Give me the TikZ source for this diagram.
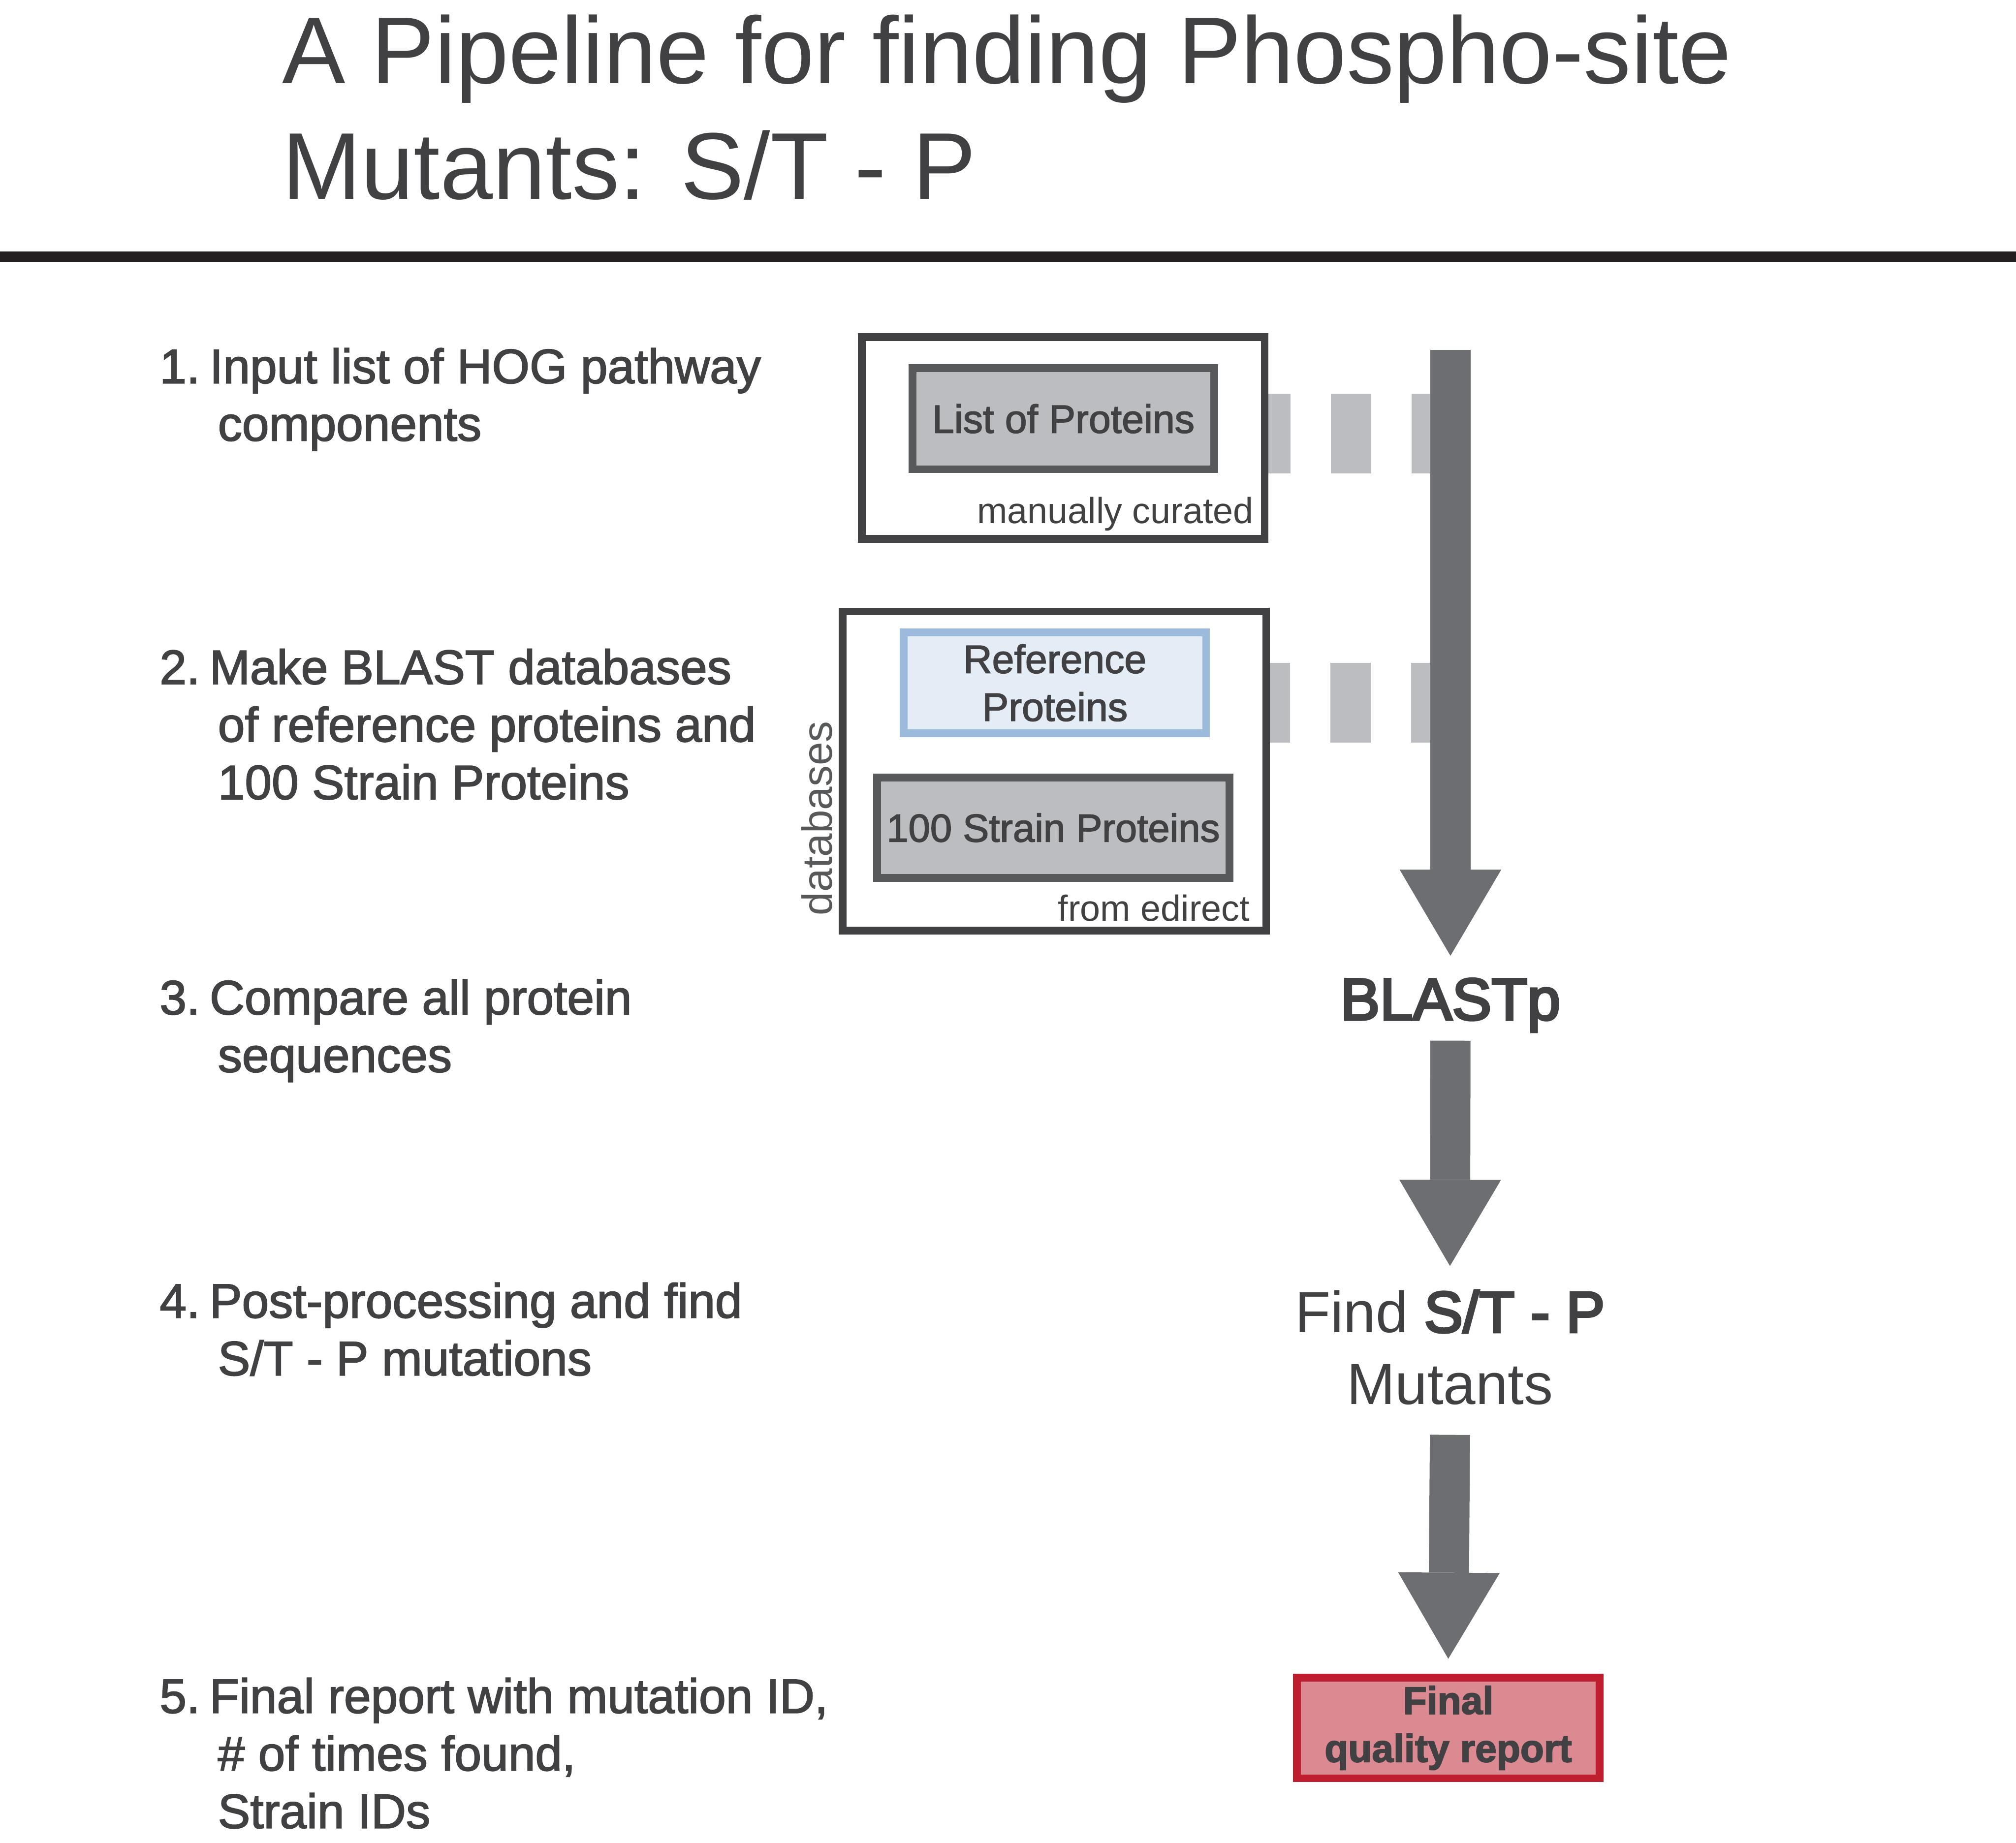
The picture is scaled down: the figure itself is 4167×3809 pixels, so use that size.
\documentclass[tikz,border=0pt]{standalone}
\usepackage{fontspec}
\setmainfont{Liberation Sans}
\newfontfamily\medf[FakeBold=2]{Liberation Sans}
\newfontfamily\boldf[FakeBold=4]{Liberation Sans}
\newfontfamily\blackf[FakeBold=2.5]{Liberation Sans Bold}
\usetikzlibrary{arrows.meta,calc,backgrounds}
\definecolor{txt}{HTML}{414042}
\definecolor{outerc}{HTML}{414042}
\definecolor{innerc}{HTML}{58595B}
\definecolor{innerfill}{HTML}{BCBDC0}
\definecolor{dashc}{HTML}{BCBDC0}
\definecolor{arrowc}{HTML}{6D6E71}
\definecolor{blueb}{HTML}{9CBADC}
\definecolor{bluef}{HTML}{E4ECF6}
\definecolor{redb}{HTML}{BE1E2D}
\definecolor{redf}{HTML}{DC8A92}
\definecolor{rulec}{HTML}{231F20}
\newcommand\numgap{\hspace{20pt}}
\begin{document}
\begin{tikzpicture}[x=1pt,y=-1pt,
  every node/.style={inner sep=0pt, outer sep=0pt, text=txt},
  steplabel/.style={anchor=base west, align=left, font=\medf\fontsize{100}{119}\selectfont},
  outerbox/.style={draw=outerc, line width=16pt, fill=white},
  greybox/.style={draw=innerc, line width=16pt, fill=innerfill, font=\medf\fontsize{82}{99}\selectfont, align=center},
  bluebox/.style={draw=blueb, line width=16pt, fill=bluef, font=\medf\fontsize{82}{99}\selectfont, align=center},
  finalbox/.style={draw=redb, line width=16pt, fill=redf, font=\blackf\fontsize{80}{99}\selectfont, align=center},
  smalllabel/.style={font=\fontsize{75}{90}\selectfont, anchor=base east},
  dashconn/.style={draw=dashc, line width=165pt, dash pattern=on 83pt off 84pt},
  bigarrow/.style={draw=arrowc, line width=83pt, -{Triangle[length=178pt,width=210pt,line width=0pt]}}
]
\useasboundingbox (0,0) rectangle (4167,3809);

% title (anchor = baseline of last line)
\node[anchor=base west, align=left, font=\fontsize{196}{239}\selectfont] (title) at (583,411)
  {A Pipeline for finding Phospho-site\\Mutants: S/T - P};
\coordinate (ruleL) at (0,530.5);
\coordinate (ruleR) at (4167,530.5);
\draw[rulec, line width=21pt] (ruleL) -- (ruleR);

% steps (anchor = baseline of last line)
\node[steplabel] (s1) at (330,911) {1.\numgap Input list of HOG pathway\\\hphantom{1. }components};
\node[steplabel] (s2) at (330,1652) {2.\numgap Make BLAST databases\\\hphantom{2. }of reference proteins and\\\hphantom{2. }100 Strain Proteins};
\node[steplabel] (s3) at (330,2216) {3.\numgap Compare all protein\\\hphantom{3. }sequences};
\node[steplabel] (s4) at (330,2843) {4.\numgap Post-processing and find\\\hphantom{4. }S/T - P mutations};
\node[steplabel] (s5) at (330,3779) {5.\numgap Final report with mutation ID,\\\hphantom{5. }\# of times found,\\\hphantom{5. }Strain IDs};

% box 1
\node[outerbox, minimum width=833pt, minimum height=417pt] (box1) at (2197.5,905.5) {};
\node[greybox, minimum width=624pt, minimum height=209pt] (listp) at (2198,865.5) {List of Proteins};
\node[smalllabel] (manual) at (2591,1082) {manually curated};

% box 2
\node[outerbox, minimum width=875pt, minimum height=660pt] (box2) at (2179.5,1594) {};
\node[bluebox, minimum width=625pt, minimum height=209pt] (refp) at (2180.5,1411.5) {Reference\\Proteins};
\node[greybox, minimum width=728pt, minimum height=208pt, font=\medf\fontsize{81}{99}\selectfont] (strainp) at (2177,1711) {100 Strain Proteins};
\node[smalllabel] (edirect) at (2583,1904) {from edirect};
\node[rotate=90, anchor=base, text=innerc, font=\fontsize{87}{100}\selectfont] (dblabel) at (1720,1691.5) {databases};

% right column
\coordinate (a1start) at (2998,723);
\node[anchor=base, font=\boldf\fontsize{122}{146}\selectfont] (blast) at (2998,2108) {BLASTp};
\node[anchor=base, align=center, font=\fontsize{120}{149}\selectfont] (find) at (2997,2903) {Find {\boldf S/T - P}\\Mutants};
\node[finalbox, minimum width=625pt, minimum height=208pt] (final) at (2993.5,3572) {Final\\quality report};

% dashed connectors (behind)
\begin{pgfonlayer}{background}
\fill[white] (0,0) rectangle (4167,3809);
\draw[dashconn, dash phase=30pt] ([yshift=9pt]box1.east) -- ([yshift=9pt]box1.east -| a1start);
\draw[dashconn, dash phase=34pt] ([yshift=141pt]box2.east) -- ([yshift=141pt]box2.east -| a1start);
\end{pgfonlayer}

% arrows
\draw[bigarrow] (a1start) -- ([yshift=47pt]blast.north);
\draw[bigarrow] ([yshift=-18pt]blast.south) -- ([yshift=50pt]find.north);
\draw[bigarrow] ([yshift=-62pt]find.south) -- ([yshift=39pt]final.north);
\end{tikzpicture}
\end{document}
